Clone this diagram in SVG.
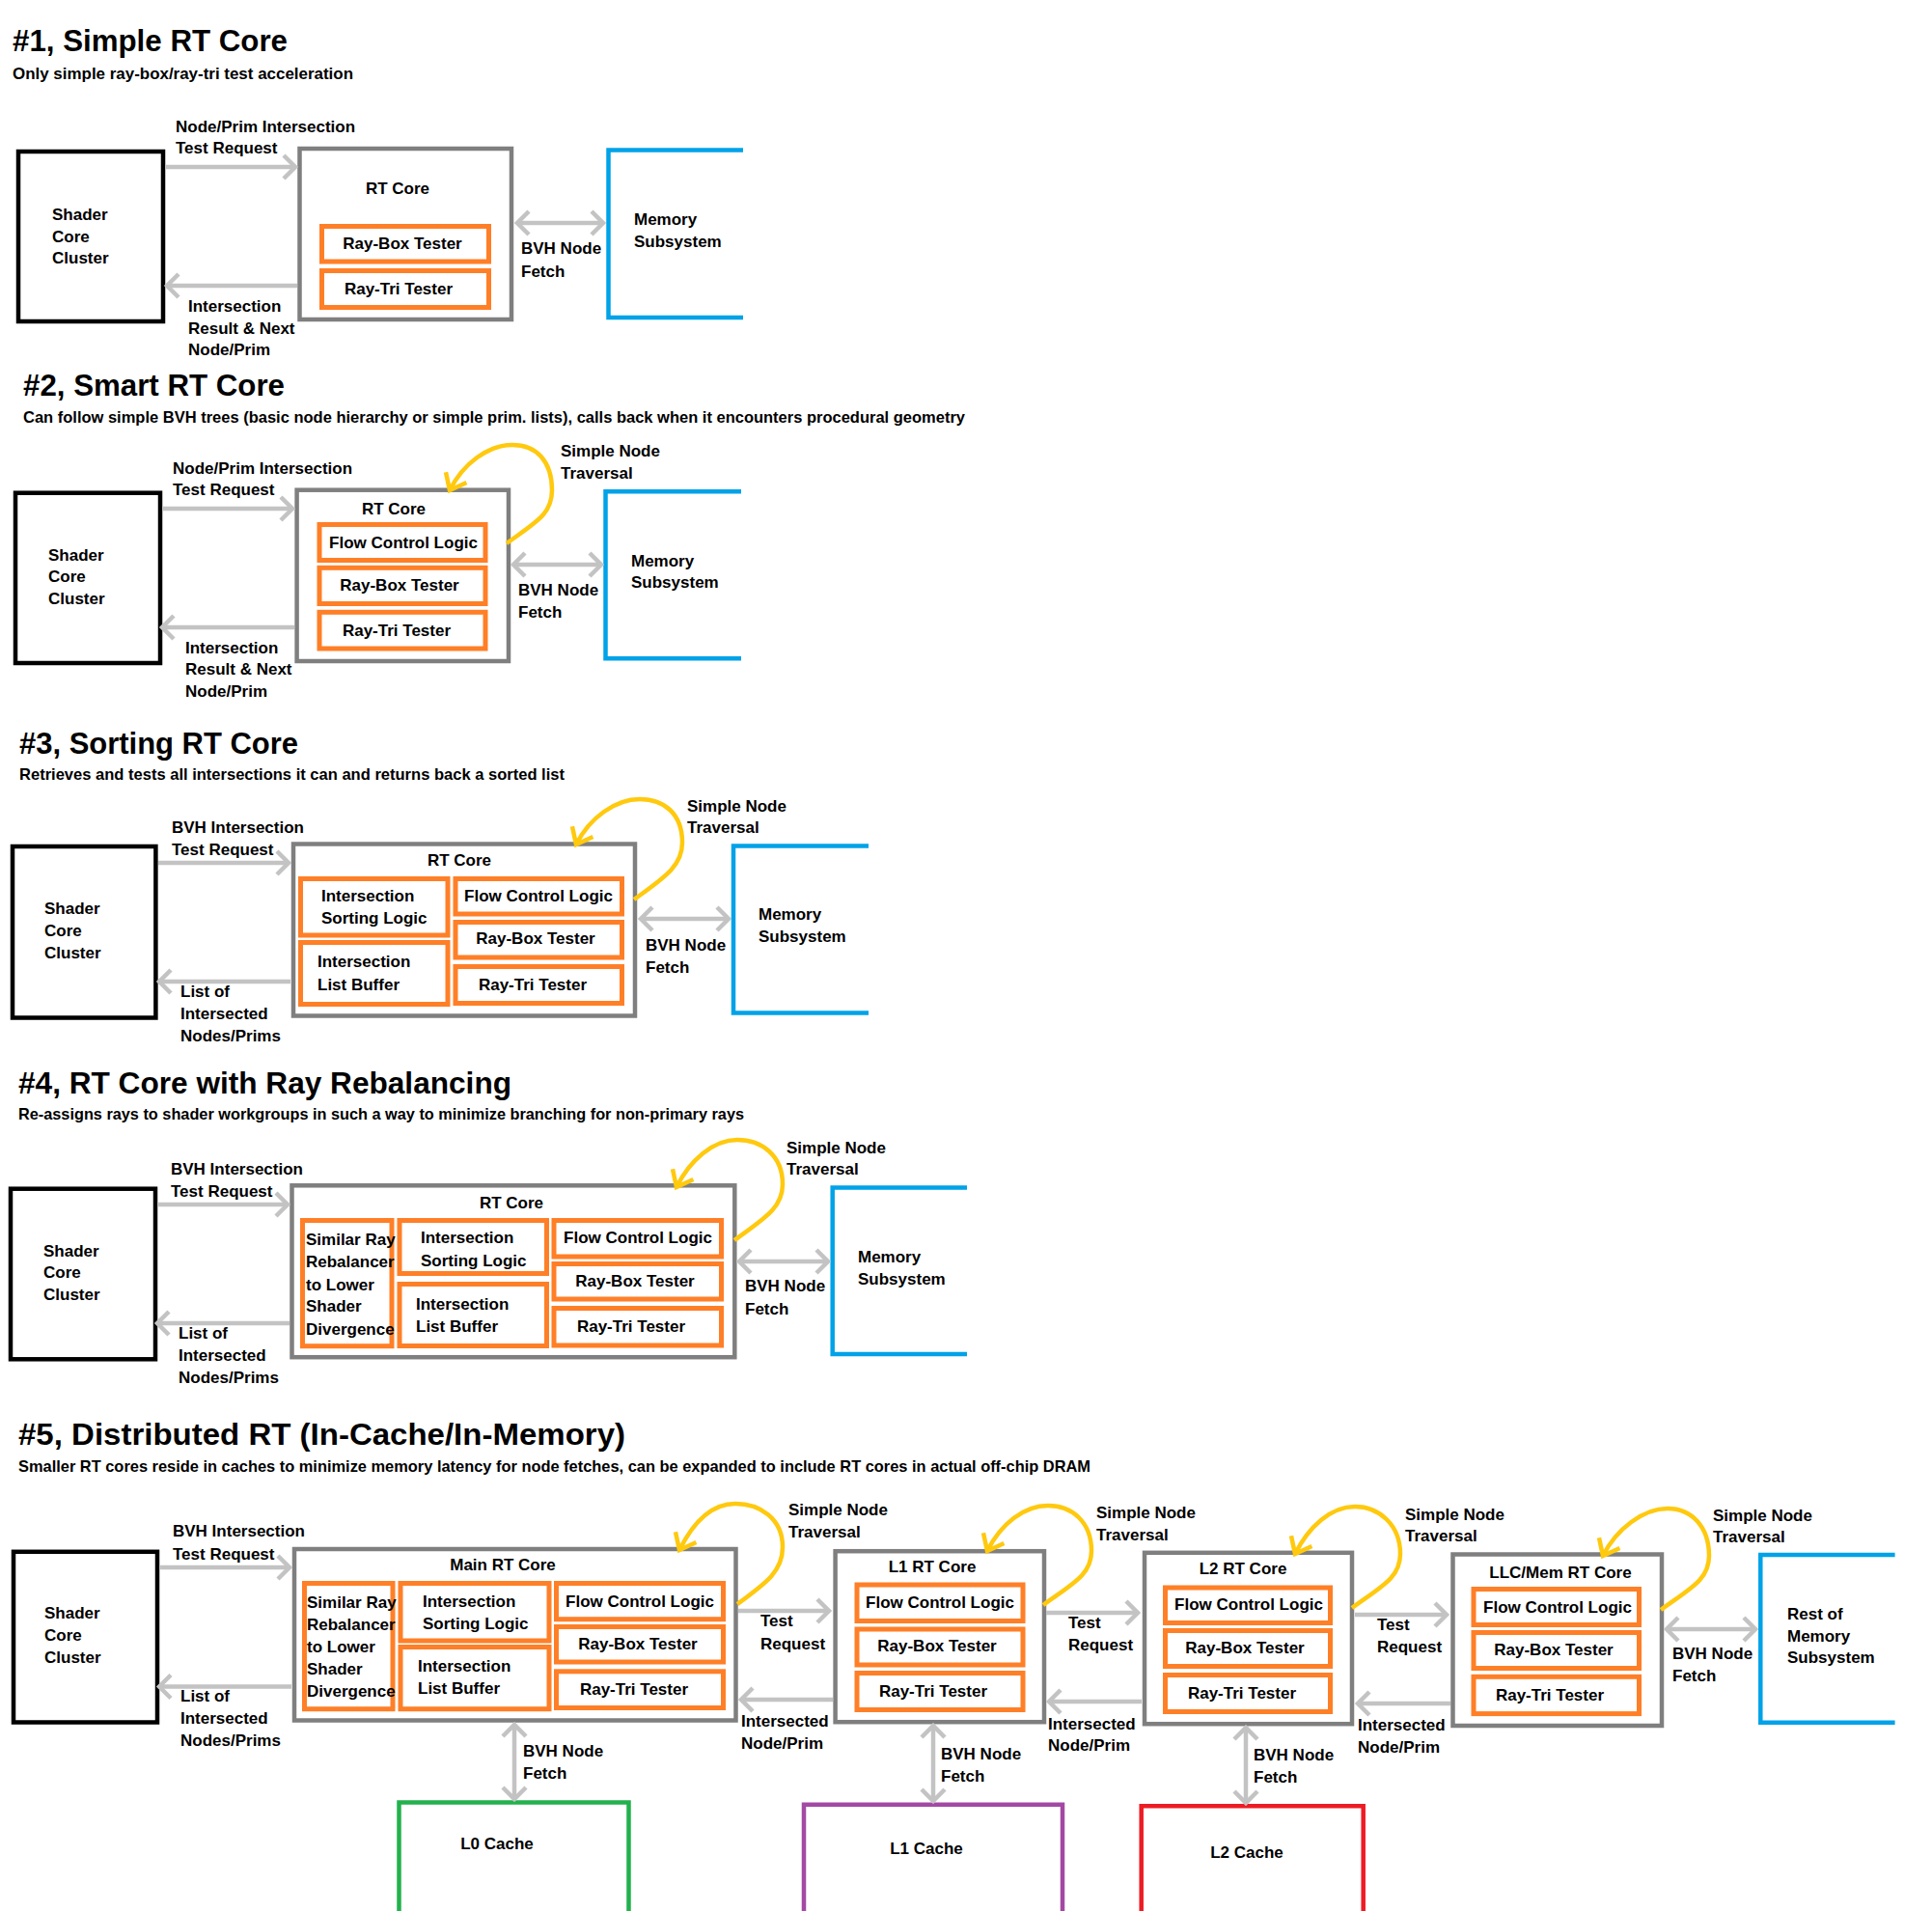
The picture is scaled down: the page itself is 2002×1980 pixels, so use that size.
<svg xmlns="http://www.w3.org/2000/svg" width="2002" height="1980" viewBox="0 0 2002 1980">
<defs>
<marker id="ah" markerUnits="userSpaceOnUse" markerWidth="40" markerHeight="40" viewBox="-20 -20 40 40" refX="0" refY="0" orient="auto-start-reverse"><path d="M -12,-12 L 0,0 L -12,12" fill="none" stroke="#c3c3c3" stroke-width="4.5"/></marker>
<marker id="yh" markerUnits="userSpaceOnUse" markerWidth="40" markerHeight="40" viewBox="-20 -20 40 40" refX="0" refY="0" orient="auto"><path d="M -15,-12 L 0,0 L -15,12" fill="none" stroke="#ffc90e" stroke-width="4.5"/></marker>
</defs>
<style>
text{font-family:"Liberation Sans",Arial,sans-serif;font-weight:bold;fill:#000}
.t{font-size:31px}
.s{font-size:17px}
.l{font-size:17px}
.m{text-anchor:middle}
.shader{fill:none;stroke:#000;stroke-width:4.5}
.core{fill:none;stroke:#7f7f7f;stroke-width:4.5}
.comp{fill:none;stroke:#ff7f27;stroke-width:5}
.mem{fill:none;stroke:#00a2e8;stroke-width:4.5}
.l0{fill:none;stroke:#22b14c;stroke-width:4.5}
.l1{fill:none;stroke:#a349a4;stroke-width:4.5}
.l2{fill:none;stroke:#ed1c24;stroke-width:4.5}
.a{stroke:#c3c3c3;stroke-width:4.5;fill:none;marker-end:url(#ah)}
.d{stroke:#c3c3c3;stroke-width:4.5;fill:none;marker-start:url(#ah);marker-end:url(#ah)}
.y{stroke:#ffc90e;stroke-width:4.5;fill:none;marker-end:url(#yh)}
</style>
<rect width="2002" height="1980" fill="#fff"/>

<!-- Section titles -->
<g id="titles">
<text class="t" x="13" y="53" textLength="285" lengthAdjust="spacingAndGlyphs">#1, Simple RT Core</text>
<text class="s" x="13" y="82" textLength="353" lengthAdjust="spacingAndGlyphs">Only simple ray-box/ray-tri test acceleration</text>
<text class="t" x="24" y="410" textLength="271" lengthAdjust="spacingAndGlyphs">#2, Smart RT Core</text>
<text class="s" x="24" y="438" textLength="976" lengthAdjust="spacingAndGlyphs">Can follow simple BVH trees (basic node hierarchy or simple prim. lists), calls back when it encounters procedural geometry</text>
<text class="t" x="20" y="781" textLength="289" lengthAdjust="spacingAndGlyphs">#3, Sorting RT Core</text>
<text class="s" x="20" y="808" textLength="565" lengthAdjust="spacingAndGlyphs">Retrieves and tests all intersections it can and returns back a sorted list</text>
<text class="t" x="19" y="1133" textLength="511" lengthAdjust="spacingAndGlyphs">#4, RT Core with Ray Rebalancing</text>
<text class="s" x="19" y="1160" textLength="752" lengthAdjust="spacingAndGlyphs">Re-assigns rays to shader workgroups in such a way to minimize branching for non-primary rays</text>
<text class="t" x="19" y="1497" textLength="629" lengthAdjust="spacingAndGlyphs">#5, Distributed RT (In-Cache/In-Memory)</text>
<text class="s" x="19" y="1525" textLength="1111" lengthAdjust="spacingAndGlyphs">Smaller RT cores reside in caches to minimize memory latency for node fetches, can be expanded to include RT cores in actual off-chip DRAM</text>
</g>

<!-- ===== Section 1 ===== -->
<g id="s1-shader"><rect class="shader" x="19" y="157" width="150" height="176"/>
<text class="l" x="54" y="228">Shader</text><text class="l" x="54" y="251">Core</text><text class="l" x="54" y="273">Cluster</text></g>
<g id="s1-rtcore"><rect class="core" x="310.5" y="154" width="219.5" height="177"/>
<text class="l m" x="412" y="201">RT Core</text></g>
<g id="s1-raybox"><rect class="comp" x="333.5" y="234.5" width="173" height="36.5"/><text class="l m" x="417" y="258">Ray-Box Tester</text></g>
<g id="s1-raytri"><rect class="comp" x="333.5" y="280.5" width="173" height="38"/><text class="l m" x="413" y="305">Ray-Tri Tester</text></g>
<g id="s1-memory"><path class="mem" d="M 770,155.5 H 630.5 V 329 H 770"/>
<text class="l" x="657" y="233">Memory</text><text class="l" x="657" y="256">Subsystem</text></g>

<!-- ===== Section 2 ===== -->
<g id="s2-shader"><rect class="shader" x="16" y="510.7" width="150" height="176.3"/>
<text class="l" x="50" y="581">Shader</text><text class="l" x="50" y="603">Core</text><text class="l" x="50" y="626">Cluster</text></g>
<g id="s2-rtcore"><rect class="core" x="307.6" y="507.7" width="219.4" height="177.3"/>
<text class="l m" x="408" y="533">RT Core</text></g>
<g id="s2-flow"><rect class="comp" x="331" y="543.5" width="172" height="37"/><text class="l m" x="418" y="568">Flow Control Logic</text></g>
<g id="s2-raybox"><rect class="comp" x="331" y="588.3" width="172" height="37.2"/><text class="l m" x="414" y="612">Ray-Box Tester</text></g>
<g id="s2-raytri"><rect class="comp" x="331" y="634.3" width="172" height="37.7"/><text class="l m" x="411" y="659">Ray-Tri Tester</text></g>
<g id="s2-memory"><path class="mem" d="M 768,509.3 H 627.5 V 682.2 H 768"/>
<text class="l" x="654" y="587">Memory</text><text class="l" x="654" y="609">Subsystem</text></g>

<!-- ===== Section 3 ===== -->
<g id="s3-shader"><rect class="shader" x="13" y="877" width="148.4" height="177.5"/>
<text class="l" x="46" y="947">Shader</text><text class="l" x="46" y="970">Core</text><text class="l" x="46" y="993">Cluster</text></g>
<g id="s3-rtcore"><rect class="core" x="304" y="874.5" width="354" height="178"/>
<text class="l m" x="476" y="897">RT Core</text></g>
<g id="s3-sort"><rect class="comp" x="311.5" y="910.5" width="152.5" height="58.5"/>
<text class="l" x="333" y="934">Intersection</text><text class="l" x="333" y="957">Sorting Logic</text></g>
<g id="s3-list"><rect class="comp" x="311.5" y="976.5" width="152.5" height="64"/>
<text class="l" x="329" y="1002">Intersection</text><text class="l" x="329" y="1026">List Buffer</text></g>
<g id="s3-flow"><rect class="comp" x="472" y="910.5" width="172.5" height="36.5"/><text class="l m" x="558" y="934">Flow Control Logic</text></g>
<g id="s3-raybox"><rect class="comp" x="472" y="955.5" width="172.5" height="36.5"/><text class="l m" x="555" y="978">Ray-Box Tester</text></g>
<g id="s3-raytri"><rect class="comp" x="472" y="1001.5" width="172.5" height="38"/><text class="l m" x="552" y="1026">Ray-Tri Tester</text></g>
<g id="s3-memory"><path class="mem" d="M 900,876.5 H 760 V 1049.5 H 900"/>
<text class="l" x="786" y="953">Memory</text><text class="l" x="786" y="976">Subsystem</text></g>

<!-- ===== Section 4 ===== -->
<g id="s4-shader"><rect class="shader" x="11" y="1231.7" width="150" height="176.6"/>
<text class="l" x="45" y="1302">Shader</text><text class="l" x="45" y="1324">Core</text><text class="l" x="45" y="1347">Cluster</text></g>
<g id="s4-rtcore"><rect class="core" x="302.5" y="1228.3" width="458.8" height="177.9"/>
<text class="l m" x="530" y="1252">RT Core</text></g>
<g id="s4-rebal"><rect class="comp" x="313.5" y="1264.5" width="92.5" height="130.2"/>
<text class="l" x="317" y="1290">Similar Ray</text><text class="l" x="317" y="1313">Rebalancer</text><text class="l" x="317" y="1337">to Lower</text><text class="l" x="317" y="1359">Shader</text><text class="l" x="317" y="1383">Divergence</text></g>
<g id="s4-sort"><rect class="comp" x="414" y="1264.5" width="152.5" height="55"/>
<text class="l" x="436" y="1288">Intersection</text><text class="l" x="436" y="1312">Sorting Logic</text></g>
<g id="s4-list"><rect class="comp" x="414" y="1330.5" width="152.5" height="64"/>
<text class="l" x="431" y="1357">Intersection</text><text class="l" x="431" y="1380">List Buffer</text></g>
<g id="s4-flow"><rect class="comp" x="574" y="1264.5" width="173.5" height="37.5"/><text class="l m" x="661" y="1288">Flow Control Logic</text></g>
<g id="s4-raybox"><rect class="comp" x="574" y="1309.5" width="173.5" height="36.5"/><text class="l m" x="658" y="1333">Ray-Box Tester</text></g>
<g id="s4-raytri"><rect class="comp" x="574" y="1355.5" width="173.5" height="38.5"/><text class="l m" x="654" y="1380">Ray-Tri Tester</text></g>
<g id="s4-memory"><path class="mem" d="M 1002,1230.5 H 862.7 V 1403 H 1002"/>
<text class="l" x="889" y="1308">Memory</text><text class="l" x="889" y="1331">Subsystem</text></g>

<!-- ===== Section 5 ===== -->
<g id="s5-shader"><rect class="shader" x="14" y="1607.8" width="149" height="176.7"/>
<text class="l" x="46" y="1677">Shader</text><text class="l" x="46" y="1700">Core</text><text class="l" x="46" y="1723">Cluster</text></g>
<g id="s5-main"><rect class="core" x="305" y="1605" width="457.5" height="177.5"/>
<text class="l m" x="521" y="1627">Main RT Core</text></g>
<g id="s5-rebal"><rect class="comp" x="315.5" y="1640.5" width="91.5" height="130.2"/>
<text class="l" x="318" y="1666">Similar Ray</text><text class="l" x="318" y="1689">Rebalancer</text><text class="l" x="318" y="1712">to Lower</text><text class="l" x="318" y="1735">Shader</text><text class="l" x="318" y="1758">Divergence</text></g>
<g id="s5-sort"><rect class="comp" x="415" y="1640.5" width="154" height="59.5"/>
<text class="l" x="438" y="1665">Intersection</text><text class="l" x="438" y="1688">Sorting Logic</text></g>
<g id="s5-list"><rect class="comp" x="415" y="1706.5" width="154" height="64.2"/>
<text class="l" x="433" y="1732">Intersection</text><text class="l" x="433" y="1755">List Buffer</text></g>
<g id="s5-flow"><rect class="comp" x="576.5" y="1640.5" width="173" height="37.2"/><text class="l m" x="663" y="1665">Flow Control Logic</text></g>
<g id="s5-raybox"><rect class="comp" x="576.5" y="1685.5" width="173" height="36.5"/><text class="l m" x="661" y="1709">Ray-Box Tester</text></g>
<g id="s5-raytri"><rect class="comp" x="576.5" y="1731.8" width="173" height="37.7"/><text class="l m" x="657" y="1756">Ray-Tri Tester</text></g>

<g id="s5-l1core"><rect class="core" x="865.6" y="1607.2" width="216.4" height="177"/>
<text class="l m" x="966" y="1629">L1 RT Core</text></g>
<g id="s5-l1flow"><rect class="comp" x="888" y="1642" width="172" height="37.5"/><text class="l m" x="974" y="1666">Flow Control Logic</text></g>
<g id="s5-l1raybox"><rect class="comp" x="888" y="1688" width="172" height="37"/><text class="l m" x="971" y="1711">Ray-Box Tester</text></g>
<g id="s5-l1raytri"><rect class="comp" x="888" y="1733.5" width="172" height="38"/><text class="l m" x="967" y="1758">Ray-Tri Tester</text></g>

<g id="s5-l2core"><rect class="core" x="1186" y="1608.8" width="215" height="177.4"/>
<text class="l m" x="1288" y="1631">L2 RT Core</text></g>
<g id="s5-l2flow"><rect class="comp" x="1207.5" y="1645" width="171" height="36.5"/><text class="l m" x="1294" y="1668">Flow Control Logic</text></g>
<g id="s5-l2raybox"><rect class="comp" x="1207.5" y="1689.5" width="171" height="37"/><text class="l m" x="1290" y="1713">Ray-Box Tester</text></g>
<g id="s5-l2raytri"><rect class="comp" x="1207.5" y="1735.5" width="171" height="38"/><text class="l m" x="1287" y="1760">Ray-Tri Tester</text></g>

<g id="s5-llccore"><rect class="core" x="1505.5" y="1610.5" width="216.5" height="177.5"/>
<text class="l m" x="1617" y="1635">LLC/Mem RT Core</text></g>
<g id="s5-llcflow"><rect class="comp" x="1527" y="1646.5" width="171.5" height="37"/><text class="l m" x="1614" y="1671">Flow Control Logic</text></g>
<g id="s5-llcraybox"><rect class="comp" x="1527" y="1691.5" width="171.5" height="37"/><text class="l m" x="1610" y="1715">Ray-Box Tester</text></g>
<g id="s5-llcraytri"><rect class="comp" x="1527" y="1737.3" width="171.5" height="38.3"/><text class="l m" x="1606" y="1762">Ray-Tri Tester</text></g>

<g id="s5-rest"><path class="mem" d="M 1963.6,1611 H 1824.3 V 1784.7 H 1963.6"/>
<text class="l" x="1852" y="1678">Rest of</text><text class="l" x="1852" y="1701">Memory</text><text class="l" x="1852" y="1723">Subsystem</text></g>
<g id="s5-l0cache"><path class="l0" d="M 413.5,1980 V 1867.5 H 651.5 V 1980"/><text class="l m" x="515" y="1916">L0 Cache</text></g>
<g id="s5-l1cache"><path class="l1" d="M 833,1980 V 1869.7 H 1101 V 1980"/><text class="l m" x="960" y="1921">L1 Cache</text></g>
<g id="s5-l2cache"><path class="l2" d="M 1182.7,1980 V 1871.3 H 1412.7 V 1980"/><text class="l m" x="1292" y="1925">L2 Cache</text></g>

<!-- ===== Connectors ===== -->
<g id="connectors">
<!-- S1 -->
<path class="a" d="M 171,173 H 306"/>
<path class="a" d="M 308,296 H 173"/>
<path class="d" d="M 536,231 H 625"/>
<text class="l" x="182" y="137">Node/Prim Intersection</text><text class="l" x="182" y="159">Test Request</text>
<text class="l" x="195" y="323">Intersection</text><text class="l" x="195" y="346">Result &amp; Next</text><text class="l" x="195" y="368">Node/Prim</text>
<text class="l" x="540" y="263">BVH Node</text><text class="l" x="540" y="287">Fetch</text>
<!-- S2 -->
<path class="a" d="M 168,527 H 303"/>
<path class="a" d="M 305,650 H 168"/>
<path class="d" d="M 532,585 H 623"/>
<path class="y" d="M 525,563 C 555,541 572,533 572,508 C 572,478 556,461 531,461 C 506,461 480,480 466,508"/>
<text class="l" x="179" y="491">Node/Prim Intersection</text><text class="l" x="179" y="513">Test Request</text>
<text class="l" x="192" y="677">Intersection</text><text class="l" x="192" y="699">Result &amp; Next</text><text class="l" x="192" y="722">Node/Prim</text>
<text class="l" x="537" y="617">BVH Node</text><text class="l" x="537" y="640">Fetch</text>
<text class="l" x="581" y="473">Simple Node</text><text class="l" x="581" y="496">Traversal</text>
<!-- S3 -->
<path class="a" d="M 164,894 H 299"/>
<path class="a" d="M 301,1017 H 165"/>
<path class="d" d="M 664,952 H 755"/>
<path class="y" d="M 657,932 C 687,910 707,898 707,873 C 707,843 688,828 663,828 C 638,828 611,847 597,875"/>
<text class="l" x="178" y="863">BVH Intersection</text><text class="l" x="178" y="886">Test Request</text>
<text class="l" x="187" y="1033">List of</text><text class="l" x="187" y="1056">Intersected</text><text class="l" x="187" y="1079">Nodes/Prims</text>
<text class="l" x="669" y="985">BVH Node</text><text class="l" x="669" y="1008">Fetch</text>
<text class="l" x="712" y="841">Simple Node</text><text class="l" x="712" y="863">Traversal</text>
<!-- S4 -->
<path class="a" d="M 164,1248 H 298"/>
<path class="a" d="M 300,1371 H 163"/>
<path class="d" d="M 766,1307 H 858"/>
<path class="y" d="M 761,1285 C 791,1263 811,1252 811,1227 C 811,1197 789,1181 764,1181 C 739,1181 715,1202 701,1230"/>
<text class="l" x="177" y="1217">BVH Intersection</text><text class="l" x="177" y="1240">Test Request</text>
<text class="l" x="185" y="1387">List of</text><text class="l" x="185" y="1410">Intersected</text><text class="l" x="185" y="1433">Nodes/Prims</text>
<text class="l" x="772" y="1338">BVH Node</text><text class="l" x="772" y="1362">Fetch</text>
<text class="l" x="815" y="1195">Simple Node</text><text class="l" x="815" y="1217">Traversal</text>
<!-- S5 -->
<path class="a" d="M 166,1624 H 300"/>
<path class="a" d="M 302,1747.5 H 165"/>
<text class="l" x="179" y="1592">BVH Intersection</text><text class="l" x="179" y="1616">Test Request</text>
<text class="l" x="187" y="1763">List of</text><text class="l" x="187" y="1786">Intersected</text><text class="l" x="187" y="1809">Nodes/Prims</text>

<path class="a" d="M 765,1669 H 859"/>
<path class="a" d="M 863,1761 H 768"/>
<text class="l" x="788" y="1685">Test</text><text class="l" x="788" y="1709">Request</text>
<text class="l" x="768" y="1789">Intersected</text><text class="l" x="768" y="1812">Node/Prim</text>

<path class="a" d="M 1084,1671 H 1179"/>
<path class="a" d="M 1183,1763 H 1087"/>
<text class="l" x="1107" y="1687">Test</text><text class="l" x="1107" y="1710">Request</text>
<text class="l" x="1086" y="1792">Intersected</text><text class="l" x="1086" y="1814">Node/Prim</text>

<path class="a" d="M 1404,1673 H 1499"/>
<path class="a" d="M 1503,1765 H 1407"/>
<text class="l" x="1427" y="1689">Test</text><text class="l" x="1427" y="1712">Request</text>
<text class="l" x="1407" y="1793">Intersected</text><text class="l" x="1407" y="1816">Node/Prim</text>

<path class="d" d="M 1727,1688 H 1819"/>
<text class="l" x="1733" y="1719">BVH Node</text><text class="l" x="1733" y="1742">Fetch</text>

<path class="d" d="M 533,1787 V 1864"/>
<text class="l" x="542" y="1820">BVH Node</text><text class="l" x="542" y="1843">Fetch</text>
<path class="d" d="M 967,1788 V 1866"/>
<text class="l" x="975" y="1823">BVH Node</text><text class="l" x="975" y="1846">Fetch</text>
<path class="d" d="M 1291,1790 V 1868"/>
<text class="l" x="1299" y="1824">BVH Node</text><text class="l" x="1299" y="1847">Fetch</text>

<path class="y" d="M 764,1662 C 794,1640 811,1628 811,1603 C 811,1573 787,1558 762,1558 C 737,1558 718,1578 704,1606"/>
<path class="y" d="M 1081,1663 C 1111,1641 1131,1632 1131,1607 C 1131,1577 1111,1560 1086,1560 C 1061,1560 1037,1579 1023,1607"/>
<path class="y" d="M 1401,1666 C 1431,1644 1451,1635 1451,1610 C 1451,1580 1429,1561 1404,1561 C 1379,1561 1356,1582 1342,1610"/>
<path class="y" d="M 1721,1668 C 1751,1646 1771,1637 1771,1612 C 1771,1582 1753,1563 1728,1563 C 1703,1563 1675,1584 1661,1612"/>
<text class="l" x="817" y="1570">Simple Node</text><text class="l" x="817" y="1593">Traversal</text>
<text class="l" x="1136" y="1573">Simple Node</text><text class="l" x="1136" y="1596">Traversal</text>
<text class="l" x="1456" y="1575">Simple Node</text><text class="l" x="1456" y="1597">Traversal</text>
<text class="l" x="1775" y="1576">Simple Node</text><text class="l" x="1775" y="1598">Traversal</text>
</g>
</svg>
